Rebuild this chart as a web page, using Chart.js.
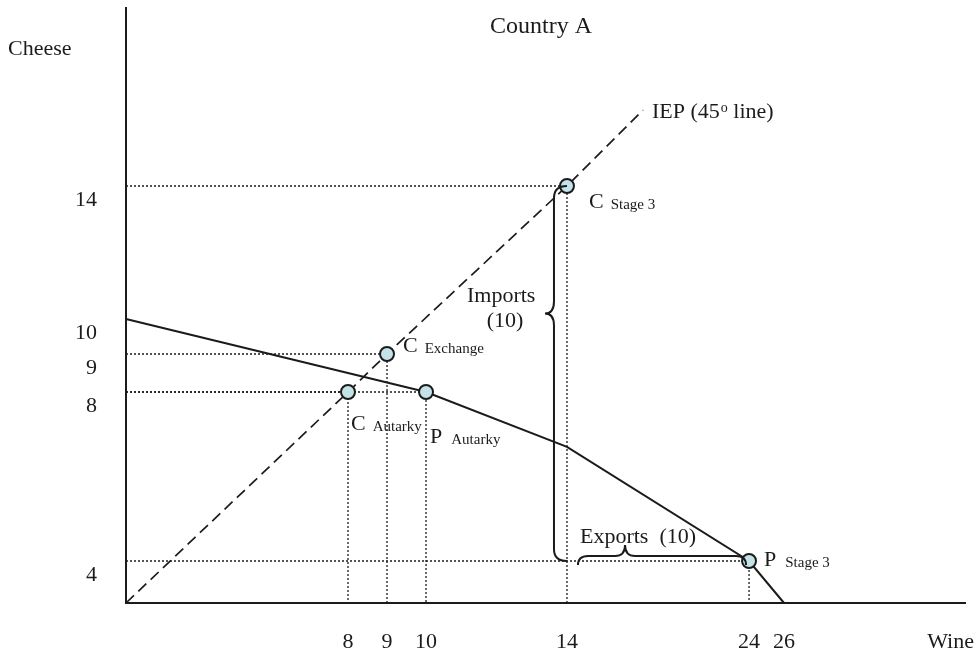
<!DOCTYPE html>
<html>
<head>
<meta charset="utf-8">
<script src="https://cdn.jsdelivr.net/npm/chart.js@4.4.1/dist/chart.umd.min.js"></script>
<style>
  html, body { margin: 0; padding: 0; background: #fff; }
</style>
</head>
<body>
<canvas id="chart" width="977" height="654"></canvas>
<script>
// Values
const wineTicks = [8, 9, 10, 14, 24, 26];
const cheeseTicks = [4, 8, 9, 10, 14];

// Country A production possibility frontier (kinked)
const ppfWine = [0, 10, 14, 24, 26];
const ppfCheese = [10, 8, 6.7, 4, 0];

// IEP, the 45 degree line
const iepWine = [0, 8, 9, 14, 17];
const iepCheese = [0, 8, 9, 14, 17];

// marked points
const pointNames = ['C Autarky', 'P Autarky', 'C Exchange', 'C Stage 3', 'P Stage 3'];
const pointWine = [8, 10, 9, 14, 24];
const pointCheese = [8, 8, 9, 14, 4];

const importsAmount = 10;
const exportsAmount = 10;

// The drawing is not to scale: where each value sits along its axis (0 = start, 1 = end)
const xKnots = [[0, 0], [8, 0.2646], [9, 0.3111], [10, 0.3576], [14, 0.5256], [17, 0.6162], [24, 0.7426], [26, 0.7843], [32, 1]];
const yKnots = [[0, 0], [4, 0.0706], [8, 0.3546], [9, 0.4185], [10, 0.4773], [14, 0.7008], [17, 0.8286], [22, 1]];
const KNOTS = { x: xKnots, y: yKnots };

function interp(knots, v, from, to) {
    for (let i = 1; i < knots.length; i++) {
        const a = knots[i - 1], b = knots[i];
        if (v <= b[from] || i === knots.length - 1) {
            return a[to] + (v - a[from]) * (b[to] - a[to]) / (b[from] - a[from]);
        }
    }
}

// piecewise linear scale so the hand drawn spacing can be kept
class KnotScale extends Chart.LinearScale {
    static id = 'knot';
    static defaults = {};
    getPixelForValue(value) {
        const f = interp(KNOTS[this.axis], value, 0, 1);
        return this.isHorizontal() ? this.left + f * this.width : this.bottom - f * this.height;
    }
    getValueForPixel(pixel) {
        const f = this.isHorizontal() ? (pixel - this.left) / this.width : (this.bottom - pixel) / this.height;
        return interp(KNOTS[this.axis], f, 1, 0);
    }
}
Chart.register(KnotScale);

const serif = '"Liberation Serif", "DejaVu Serif", serif';
const ink = '#1b1b1b';

const zip = (xs, ys) => xs.map((v, i) => ({ x: v, y: ys[i] }));

// dotted guides from each point to both axes
const guides = [];
pointWine.forEach((w, i) => {
    const c = pointCheese[i];
    guides.push({
        data: [{ x: 0, y: c }, { x: w, y: c }, { x: w, y: 0 }],
        borderColor: ink,
        borderWidth: 1.3,
        borderDash: [2, 2],
        pointRadius: 0,
        order: 3,
        clip: false
    });
});

const datasets = [
    {
        label: 'Points',
        data: zip(pointWine, pointCheese),
        showLine: false,
        pointRadius: 7,
        pointBackgroundColor: '#c4e3e8',
        pointBorderColor: ink,
        pointBorderWidth: 2,
        order: 0,
        clip: false
    },
    {
        label: 'PPF',
        data: zip(ppfWine, ppfCheese),
        borderColor: ink,
        borderWidth: 2,
        pointRadius: 0,
        order: 1,
        clip: false
    },
    {
        label: 'IEP',
        data: zip(iepWine, iepCheese),
        borderColor: ink,
        borderWidth: 1.7,
        borderDash: [11, 6],
        pointRadius: 0,
        order: 1,
        clip: false
    },
    ...guides
];

function brace(ctx, p, a1, a2, c0, cb, ct, am, r) {
    ctx.beginPath();
    ctx.moveTo(...p(a1, c0));
    ctx.quadraticCurveTo(...p(a1, cb), ...p(a1 + r, cb));
    ctx.lineTo(...p(am - r, cb));
    ctx.quadraticCurveTo(...p(am, cb), ...p(am, ct));
    ctx.quadraticCurveTo(...p(am, cb), ...p(am + r, cb));
    ctx.lineTo(...p(a2 - r, cb));
    ctx.quadraticCurveTo(...p(a2, cb), ...p(a2, c0));
    ctx.stroke();
}

// label placement relative to each marked point
const labelOffsets = [[3, 38], [4, 51], [16, -2], [22, 22], [15, 5]];

const annotate = {
    id: 'annotate',
    afterDatasetsDraw(chart) {
        const { ctx, scales: { x, y } } = chart;
        ctx.save();
        ctx.fillStyle = ink;
        ctx.strokeStyle = ink;
        ctx.lineWidth = 2;

        const text = (s, px, py, size, align) => {
            ctx.font = size + 'px ' + serif;
            ctx.textAlign = align || 'left';
            ctx.textBaseline = 'alphabetic';
            ctx.fillText(s, px, py);
            return ctx.measureText(s).width;
        };

        // imports brace (vertical, wine = 14, cheese 4..14)
        const ix = x.getPixelForValue(pointWine[3]);
        const iTop = y.getPixelForValue(pointCheese[3]);
        const iBot = y.getPixelForValue(pointCheese[4]);
        const iTip = iTop + 0.34 * (iBot - iTop);
        brace(ctx, (a, c) => [c, a], iTop, iBot, ix, ix - 13, ix - 22, iTip, 12);

        // exports brace (horizontal, cheese = 4, wine 14..24)
        const ey = y.getPixelForValue(pointCheese[4]) + 4;
        const eL = x.getPixelForValue(pointWine[3]) + 11;
        const eR = x.getPixelForValue(pointWine[4]) - 3;
        brace(ctx, (a, c) => [a, c], eL, eR, ey, ey - 9, ey - 20, eL + 0.28 * (eR - eL), 10);

        text('Imports', ix - 100, iTip - 12, 22);
        text('(' + importsAmount + ')', ix - 62, iTip + 13, 22, 'center');
        text('Exports  (' + exportsAmount + ')', eL + 2, ey - 22, 22);

        // point labels: big letter plus small subscript word
        pointNames.forEach((name, i) => {
            const px = x.getPixelForValue(pointWine[i]) + labelOffsets[i][0];
            const py = y.getPixelForValue(pointCheese[i]) + labelOffsets[i][1];
            const [main, ...rest] = name.split(' ');
            const w = text(main, px, py, 22);
            text(rest.join(' '), px + w + (main === 'P' ? 9 : 7), py + 1, 15);
        });

        // IEP label at the end of the 45 degree line
        const lx = x.getPixelForValue(iepWine[iepWine.length - 1]) + 9;
        const ly = y.getPixelForValue(iepCheese[iepCheese.length - 1]) + 8;
        let w = text('IEP (45', lx, ly, 22);
        w += text('o', lx + w + 1, ly - 6, 14) + 1;
        text(' line)', lx + w, ly, 22);

        // titles
        text('Country A', 541, 33, 24, 'center');
        text('Cheese', 8, 55, 22);
        text('Wine', 974, 648, 22, 'right');
        ctx.restore();
    }
};

new Chart(document.getElementById('chart'), {
    type: 'line',
    data: { datasets },
    plugins: [annotate],
    options: {
        responsive: false,
        animation: false,
        devicePixelRatio: 1,
        layout: { autoPadding: false, padding: { left: 0, top: 8, right: 12, bottom: 0 } },
        plugins: { legend: { display: false }, tooltip: { enabled: false } },
        scales: {
            x: {
                type: 'knot',
                min: 0,
                max: 32,
                afterBuildTicks: s => { s.ticks = wineTicks.map(v => ({ value: v })); },
                afterFit: s => { s.height = 51; s.paddingLeft = 0; s.paddingRight = 0; },
                grid: { display: false, drawTicks: false },
                border: { display: true, color: ink, width: 2 },
                ticks: {
                    padding: 26,
                    color: ink,
                    font: { family: serif, size: 22 },
                    maxRotation: 0,
                    autoSkip: false,
                    callback: v => String(v)
                }
            },
            y: {
                type: 'knot',
                min: 0,
                max: 22,
                afterBuildTicks: s => { s.ticks = cheeseTicks.map(v => ({ value: v })); },
                afterFit: s => { s.width = 126; s.paddingTop = 0; s.paddingBottom = 0; },
                grid: { display: false, drawTicks: false },
                border: { display: true, color: ink, width: 2 },
                ticks: {
                    padding: 29,
                    labelOffset: 14,
                    color: ink,
                    font: { family: serif, size: 22 },
                    autoSkip: false,
                    callback: v => String(v)
                }
            }
        }
    }
});
</script>
</body>
</html>
